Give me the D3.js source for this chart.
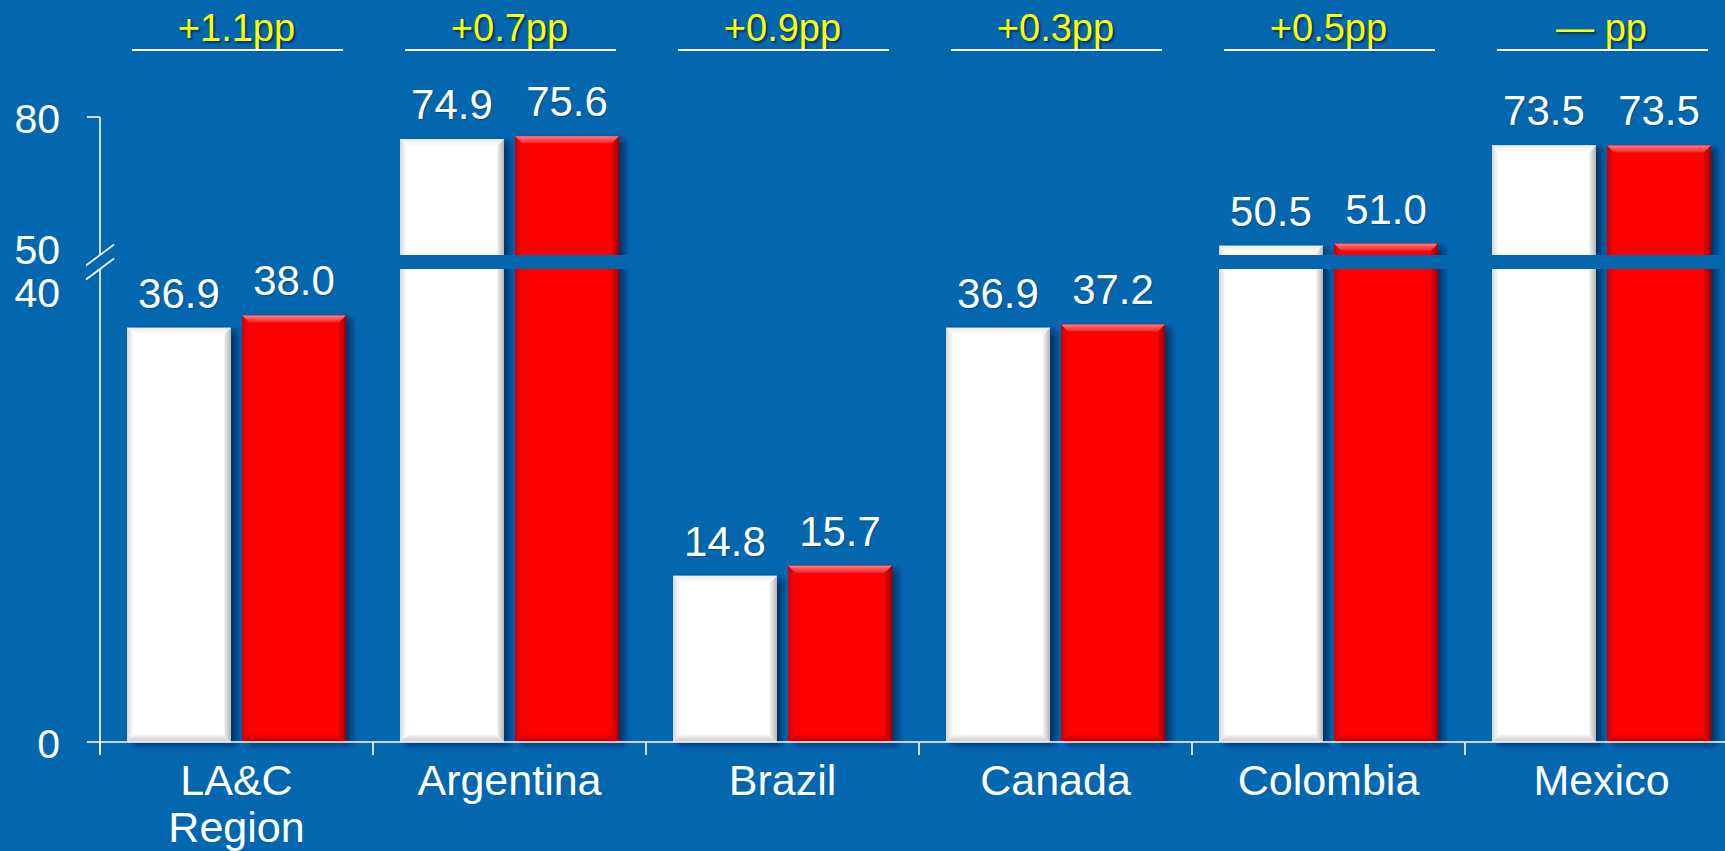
<!DOCTYPE html>
<html>
<head>
<meta charset="utf-8">
<script src="https://cdn.jsdelivr.net/npm/d3@7"></script>
<style>
  html, body { margin: 0; padding: 0; background: #0367B0; overflow: hidden; }
  svg { display: block; font-family: "Liberation Sans", Arial, sans-serif; }
  .val { fill: #fff; font-size: 42px; text-anchor: middle; text-shadow: 1px 1px 1px rgba(0,0,0,0.25); }
  .chg { fill: #FFFF00; font-size: 38px; text-anchor: middle; text-shadow: 2px 2px 2px rgba(0,20,60,0.6); }
  .cat { fill: #fff; font-size: 43px; text-anchor: middle; }
  .ytick { fill: #fff; font-size: 41px; text-anchor: end; }
</style>
</head>
<body>
<script>
// Categories, the two series and the change labels shown above each pair
const categories = ["LA&C\nRegion", "Argentina", "Brazil", "Canada", "Colombia", "Mexico"];
const seriesNames = ["previous", "current"];
const valuesPrevious = [36.9, 74.9, 14.8, 36.9, 50.5, 73.5];
const valuesCurrent  = [38.0, 75.6, 15.7, 37.2, 51.0, 73.5];
const changeLabels = ["+1.1pp", "+0.7pp", "+0.9pp", "+0.3pp", "+0.5pp", "\u2014 pp"];
const yTickValues = [0, 40, 50, 80];
const yTickLabels = ["0", "40", "50", "80"];
const axisBreak = [40, 50];   // the value axis skips this range

const W = 1725, H = 851;
const bg = "#0367B0";
const colors = { previous: "#FFFFFF", current: "#FF0000" };

const svg = d3.select("body").append("svg").attr("width", W).attr("height", H);
svg.append("rect").attr("width", W).attr("height", H).attr("fill", bg);

const defs = svg.append("defs");
const shadow = defs.append("filter").attr("id", "barShadow")
  .attr("x", "-20%").attr("y", "-10%").attr("width", "150%").attr("height", "130%");
shadow.append("feDropShadow").attr("dx", 6).attr("dy", 3).attr("stdDeviation", 3)
  .attr("flood-color", "#00183a").attr("flood-opacity", 0.6);

// Bevel gradients for each bar colour
function grad(id, x2, y2, c1, c2) {
  const g = defs.append("linearGradient").attr("id", id)
    .attr("x1", 0).attr("y1", 0).attr("x2", x2).attr("y2", y2);
  g.append("stop").attr("offset", "0%").attr("stop-color", c1);
  g.append("stop").attr("offset", "100%").attr("stop-color", c2);
}
const bevel = {
  previous: { top: ["#ececec", "#ffffff"], right: ["#f4f4f4", "#b5b5b5"], left: ["#d8d8d8", "#ffffff"], bottom: ["#f4f4f4", "#c8c8c8"] },
  current:  { top: ["#ff8080", "#ff2020"], right: ["#e80000", "#a00000"], left: ["#cc0000", "#ff0000"], bottom: ["#f00000", "#b80000"] }
};
seriesNames.forEach(s => {
  grad(`${s}-top`, 0, 1, bevel[s].top[0], bevel[s].top[1]);
  grad(`${s}-right`, 1, 0, bevel[s].right[0], bevel[s].right[1]);
  grad(`${s}-left`, 1, 0, bevel[s].left[0], bevel[s].left[1]);
  grad(`${s}-bottom`, 0, 1, bevel[s].bottom[0], bevel[s].bottom[1]);
});

// Scales: one band per category, two bars inside, broken (piecewise) value axis
const x = d3.scaleBand().domain(categories).range([100, 100 + 273 * categories.length]).padding(0);
const xInner = d3.scaleBand().domain(seriesNames).range([0, x.bandwidth()])
  .paddingInner(0.0957).paddingOuter(0.2348);
const y = d3.scaleLinear().domain([0, axisBreak[0], axisBreak[1], 80]).range([742, 293, 248, 117]);

const rows = categories.map((c, i) => ({
  cat: c,
  bars: [
    { s: "previous", v: valuesPrevious[i] },
    { s: "current", v: valuesCurrent[i] }
  ]
}));

// Bars
const groups = svg.append("g").selectAll("g").data(rows).join("g")
  .attr("transform", d => `translate(${x(d.cat)},0)`);

const bars = groups.selectAll("g.bar").data(d => d.bars).join("g").attr("class", "bar");
bars.each(function(d) {
  const g = d3.select(this);
  const x0 = xInner(d.s), w = xInner.bandwidth();
  const y0 = y(d.v), h = y(0) - y(d.v);
  const b = 7;
  g.append("rect").attr("x", x0).attr("y", y0).attr("width", w).attr("height", h)
    .attr("fill", colors[d.s]).attr("filter", "url(#barShadow)");
  const poly = (pts, fill) => g.append("polygon").attr("points", pts.map(p => p.join(",")).join(" ")).attr("fill", fill);
  poly([[x0, y0], [x0 + w, y0], [x0 + w - b, y0 + b], [x0 + b, y0 + b]], `url(#${d.s}-top)`);
  poly([[x0 + w, y0], [x0 + w, y0 + h], [x0 + w - b, y0 + h - b], [x0 + w - b, y0 + b]], `url(#${d.s}-right)`);
  poly([[x0, y0], [x0 + b, y0 + b], [x0 + b, y0 + h - b], [x0, y0 + h]], `url(#${d.s}-left)`);
  poly([[x0, y0 + h], [x0 + b, y0 + h - b], [x0 + w - b, y0 + h - b], [x0 + w, y0 + h]], `url(#${d.s}-bottom)`);
});

// Break band across bars that run past the skipped range
const bandTop = 255, bandH = 14;
const tall = rows.map(r => r.bars.some(b => b.v > axisBreak[1]));
const runs = [];
tall.forEach((t, i) => {
  if (!t) return;
  if (runs.length && runs[runs.length - 1].end === i - 1) runs[runs.length - 1].end = i;
  else runs.push({ start: i, end: i });
});
runs.forEach(r => {
  const xa = x(categories[r.start]) + xInner("previous");
  const xb = r.end === categories.length - 1 ? W
    : x(categories[r.end]) + xInner("current") + xInner.bandwidth() + 10;
  svg.append("rect").attr("x", xa).attr("y", bandTop).attr("width", xb - xa).attr("height", bandH).attr("fill", bg);
});

// Value labels
bars.append("text").attr("class", "val")
  .attr("x", d => xInner(d.s) + xInner.bandwidth() / 2)
  .attr("y", d => y(d.v) - 20)
  .text(d => d3.format(".1f")(d.v));

// Change labels with underline
const changeRow = svg.append("g").selectAll("g").data(categories).join("g")
  .attr("transform", d => `translate(${x(d)},0)`);
changeRow.append("text").attr("class", "chg")
  .attr("x", x.bandwidth() / 2).attr("y", 41)
  .text((d, i) => changeLabels[i]);
changeRow.append("line")
  .attr("x1", 32).attr("x2", x.bandwidth() - 30)
  .attr("y1", 50).attr("y2", 50)
  .attr("stroke", "#fff").attr("stroke-width", 2);

// Category axis
const axisCol = "#fff";
const xAxisG = svg.append("g").attr("stroke", axisCol).attr("stroke-width", 1.6);
xAxisG.append("line").attr("x1", 87).attr("x2", W).attr("y1", y(0)).attr("y2", y(0));
categories.forEach(c => {
  xAxisG.append("line").attr("x1", x(c)).attr("x2", x(c)).attr("y1", y(0)).attr("y2", y(0) + 13);
});
const catText = svg.append("g").selectAll("text").data(categories).join("text")
  .attr("class", "cat")
  .attr("x", d => x(d) + x.bandwidth() / 2)
  .attr("y", 795);
catText.selectAll("tspan").data(d => d.split("\n")).join("tspan")
  .attr("x", function() { return d3.select(this.parentNode).attr("x"); })
  .attr("dy", (d, i) => i === 0 ? 0 : 47)
  .text(d => d);

// Value axis with break marks
const axX = x(categories[0]);
const bandMid = bandTop + bandH / 2;
const yAxisG = svg.append("g").attr("stroke", axisCol).attr("stroke-width", 1.6).attr("fill", "none");
yAxisG.append("line").attr("x1", axX).attr("x2", axX).attr("y1", y(80)).attr("y2", bandMid - 7);
yAxisG.append("line").attr("x1", axX).attr("x2", axX).attr("y1", bandMid + 7).attr("y2", y(0) + 13);
yAxisG.append("line").attr("x1", axX - 13).attr("x2", axX).attr("y1", y(80)).attr("y2", y(80));
[-7, 7].forEach(o => {
  yAxisG.append("line").attr("x1", axX - 14).attr("y1", bandMid + o + 10.5)
    .attr("x2", axX + 14).attr("y2", bandMid + o - 10.5);
});
const yLabelPos = { 0: 745, 40: 293, 50: 250, 80: 118 };
svg.append("g").selectAll("text").data(yTickValues).join("text")
  .attr("class", "ytick")
  .attr("x", 60)
  .attr("y", d => (d === 40 || d === 50) ? yLabelPos[d] : y(d) + 2)
  .attr("dy", "0.35em")
  .text((d, i) => yTickLabels[i]);
</script>
</body>
</html>
